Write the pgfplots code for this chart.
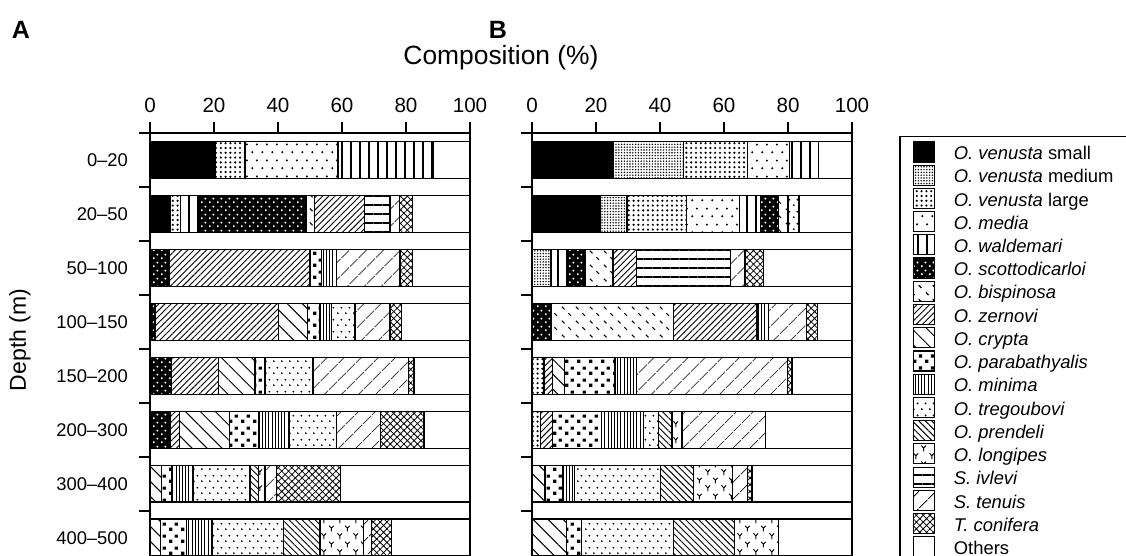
\documentclass[border=0pt]{standalone}
\usepackage{fontspec}
\setmainfont{Liberation Sans}
\usepackage{pgfplots}
\usepackage{pgfplotstable}
\pgfplotsset{compat=1.18}
\usetikzlibrary{patterns,patterns.meta}

\pgfdeclarepatternformonly{bisp}{\pgfqpoint{0pt}{0pt}}{\pgfqpoint{7pt}{7pt}}{\pgfqpoint{7pt}{7pt}}{%
 \pgfsetlinewidth{0.6pt}%
 \pgfpathmoveto{\pgfqpoint{1pt}{6pt}}\pgfpathlineto{\pgfqpoint{2.4pt}{4.6pt}}%
 \pgfpathmoveto{\pgfqpoint{4.5pt}{2.5pt}}\pgfpathlineto{\pgfqpoint{5.9pt}{1.1pt}}%
 \pgfusepath{stroke}}
\pgfdeclarepatternformonly{parab}{\pgfqpoint{0pt}{0pt}}{\pgfqpoint{6pt}{6pt}}{\pgfqpoint{6pt}{6pt}}{%
 \pgfpathrectangle{\pgfqpoint{0.6pt}{0.6pt}}{\pgfqpoint{1.7pt}{1.7pt}}%
 \pgfpathrectangle{\pgfqpoint{3.6pt}{3.4pt}}{\pgfqpoint{1.7pt}{1.7pt}}%
 \pgfusepath{fill}}
\pgfdeclarepatternformonly{longi}{\pgfqpoint{0pt}{0pt}}{\pgfqpoint{8pt}{8pt}}{\pgfqpoint{8pt}{8pt}}{%
 \pgfsetlinewidth{0.5pt}%
 \pgfpathmoveto{\pgfqpoint{2pt}{0.5pt}}\pgfpathlineto{\pgfqpoint{2pt}{2.2pt}}\pgfpathlineto{\pgfqpoint{0.8pt}{3.5pt}}%
 \pgfpathmoveto{\pgfqpoint{2pt}{2.2pt}}\pgfpathlineto{\pgfqpoint{3.2pt}{3.5pt}}%
 \pgfpathmoveto{\pgfqpoint{6pt}{4.5pt}}\pgfpathlineto{\pgfqpoint{6pt}{6.2pt}}\pgfpathlineto{\pgfqpoint{4.8pt}{7.5pt}}%
 \pgfpathmoveto{\pgfqpoint{6pt}{6.2pt}}\pgfpathlineto{\pgfqpoint{7.2pt}{7.5pt}}%
 \pgfusepath{stroke}}
\pgfdeclarepatternformonly{mediad}{\pgfqpoint{0pt}{0pt}}{\pgfqpoint{5pt}{8pt}}{\pgfqpoint{5pt}{8pt}}{%
 \pgfpathcircle{\pgfqpoint{1.25pt}{2pt}}{0.6pt}\pgfpathcircle{\pgfqpoint{3.75pt}{6pt}}{0.6pt}\pgfusepath{fill}}
\pgfdeclarepatternformonly{tregd}{\pgfqpoint{0pt}{0pt}}{\pgfqpoint{4pt}{6pt}}{\pgfqpoint{4pt}{6pt}}{%
 \pgfpathcircle{\pgfqpoint{1pt}{1.5pt}}{0.55pt}\pgfpathcircle{\pgfqpoint{3pt}{4.5pt}}{0.55pt}\pgfusepath{fill}}
\pgfdeclarepatternformonly{scotd}{\pgfqpoint{0pt}{0pt}}{\pgfqpoint{4pt}{4pt}}{\pgfqpoint{4pt}{4pt}}{%
 \pgfpathcircle{\pgfqpoint{1pt}{1pt}}{0.6pt}\pgfpathcircle{\pgfqpoint{3pt}{3pt}}{0.6pt}\pgfusepath{fill}}

\pgfplotsset{
 sp1/.style={fill=black},
 sp2/.style={pattern={Dots[distance=1.4pt,radius=0.4pt]}},
 sp3/.style={pattern={Dots[distance=2.4pt,radius=0.6pt]}},
 sp4/.style={pattern=mediad},
 sp5/.style={pattern={Lines[angle=90,distance=4.5pt,line width=0.6pt]}},
 sp6/.style={preaction={fill=black},pattern=scotd,pattern color=white},
 sp7/.style={pattern=bisp},
 sp8/.style={pattern={Lines[angle=45,distance=2.2pt,line width=0.45pt]}},
 sp9/.style={pattern={Lines[angle=-45,distance=5.3pt,line width=0.5pt]}},
 sp10/.style={pattern=parab},
 sp11/.style={pattern={Lines[angle=90,distance=1.6pt,line width=0.5pt]}},
 sp12/.style={pattern=tregd},
 sp13/.style={pattern={Lines[angle=-45,distance=2.3pt,line width=0.45pt]}},
 sp14/.style={pattern=longi},
 sp15/.style={pattern={Lines[angle=0,distance=4.5pt,line width=0.7pt]}},
 sp16/.style={pattern={Lines[angle=45,distance=6.4pt,line width=0.5pt]}},
 sp17/.style={pattern={Hatch[angle=45,distance=2.4pt,line width=0.4pt]}},
 sp18/.style={fill=white},
 panel/.style={
  scale only axis, width=160pt, height=211.5pt,
  xbar stacked, bar width=0.685,
  xmin=0, xmax=100, ymin=0.5, ymax=8.34, y dir=reverse,
  xtick={0,20,...,100}, xtick pos=right, xticklabel pos=right,
  tick align=outside, major tick length=5.5pt,
  ytick={0.5,1.5,...,7.5}, yticklabels={}, ytick pos=left,
  axis line style={line width=0.9pt},
  tick style={line width=0.9pt,black},
  xticklabel style={font=\fontsize{10.3}{12}\selectfont, yshift=1.2pt},
  /pgf/number format/assume math mode=true,
  axis on top,
 },
}

% segment widths (%), columns s1..s18 in legend order, s18 = Others
\pgfplotstableread{
y s1 s2 s3 s4 s5 s6 s7 s8 s9 s10 s11 s12 s13 s14 s15 s16 s17 s18
1 20.3 0 9.4 29.1 29.6 0 0 0 0 0 0 0 0 0 0 0 0 11.6
2 6.5 0 3.0 0 5.6 33.6 2.8 15.5 0 0 0 0 0 0 8.0 3.0 4.0 18.0
3 0 0 0 0 0 6.0 0 44.0 0 3.6 4.7 0 0 0 0 19.8 4.0 17.9
4 0 0 0 0 0 1.6 0 38.5 9.1 3.9 3.7 7.3 0 0 0 10.9 3.6 21.4
5 0 0 0 0 0 6.8 0 14.6 11.4 3.1 0 15.1 0 0 0 29.7 1.8 17.5
6 0 0 0 0 0 6.2 0 3.0 15.6 9.1 9.6 14.8 0 0 0 13.8 13.5 14.4
7 0 0 0 0 0 0 0 0 3.6 3.2 6.7 17.8 2.6 2.0 0 3.7 20.0 40.4
8 0 0 0 0 0 0 0 0 3.3 8.2 8.1 22.1 11.4 13.6 0 2.6 6.2 24.5
}\tabA
\pgfplotstableread{
y s1 s2 s3 s4 s5 s6 s7 s8 s9 s10 s11 s12 s13 s14 s15 s16 s17 s18
1 25.3 22.1 20.0 13.1 9.0 0 0 0 0 0 0 0 0 0 0 0 0 10.5
2 21.3 8.4 18.6 16.5 6.6 5.7 2.9 0 0 0 0 3.4 0 0 0 0 0 16.6
3 0 5.9 0 0 5.2 5.5 8.7 7.4 0 0 0 0 0 0 29.4 4.5 5.8 27.6
4 0 0 0 0 0 5.9 38.4 26.0 0 0 3.6 0 0 0 0 11.9 3.5 10.7
5 0 0 3.8 0 0 0 0 2.6 3.7 15.8 6.8 0 0 0 0 47.1 1.5 18.7
6 0 0 2.7 0 0 0 0 3.7 0 15.3 13.1 4.7 4.3 3.1 0 26.0 0 27.1
7 0 0 0 0 0 0 0 0 4.1 5.5 3.6 26.9 10.3 12.3 0 4.7 1.3 31.3
8 0 0 0 0 0 0 0 0 10.8 4.6 0 28.9 18.9 13.9 0 0 0 22.9
}\tabB

\begin{document}
\begin{tikzpicture}
\path[use as bounding box] (0,0) rectangle (563pt,-278pt);
\begin{axis}[panel, at={(75pt,-66.5pt)}, anchor=north west,
  extra y ticks={1,...,8},
  extra y tick labels={0–20,20–50,50–100,100–150,150–200,200–300,300–400,400–500},
  extra y tick style={major tick length=0pt, yticklabel style={font=\fontsize{9.2}{11}\selectfont, xshift=-7.5pt}}]
\pgfplotsinvokeforeach{1,...,18}{\addplot[draw=black,line width=0.7pt,sp#1] table[x=s#1,y=y]{\tabA};}
\end{axis}
\begin{axis}[panel, at={(266pt,-66.5pt)}, anchor=north west,
  legend cell align=left,
  legend image code/.code={\draw[#1, line width=0.55pt] (0pt,-3.7pt) rectangle (10.5pt,6.3pt);},
  legend style={at={(1.1469,0.9934)}, anchor=north west, draw=black, line width=0.8pt,
    inner xsep=6.5pt, inner ysep=2.4pt, row sep=0.54pt, column sep=9.5pt,
    font=\fontsize{9.2}{11}\selectfont,
    nodes={inner sep=0pt, text height=7pt, text depth=2pt}},
  legend entries={{\textit{O. venusta} small},{\textit{O. venusta} medium\hspace*{14pt}},{\textit{O. venusta} large},{\textit{O. media}},{\textit{O. waldemari}},{\textit{O. scottodicarloi}},{\textit{O. bispinosa}},{\textit{O. zernovi}},{\textit{O. crypta}},{\textit{O. parabathyalis}},{\textit{O. minima}},{\textit{O. tregoubovi}},{\textit{O. prendeli}},{\textit{O. longipes}},{\textit{S. ivlevi}},{\textit{S. tenuis}},{\textit{T. conifera}},{Others}}]
\pgfplotsinvokeforeach{1,...,18}{\addplot[draw=black,line width=0.7pt,sp#1] table[x=s#1,y=y]{\tabB};}
\end{axis}
\node[font=\bfseries\fontsize{12.5}{14}\selectfont] at (10.5pt,-15pt) {A};
\node[font=\bfseries\fontsize{12.5}{14}\selectfont] at (249pt,-15pt) {B};
\node[font=\fontsize{13.2}{15}\selectfont] at (250.5pt,-29pt) {Composition (\%)};
\node[font=\fontsize{11.5}{14}\selectfont, rotate=90] at (10pt,-170pt) {Depth (m)};
\end{tikzpicture}
\end{document}
